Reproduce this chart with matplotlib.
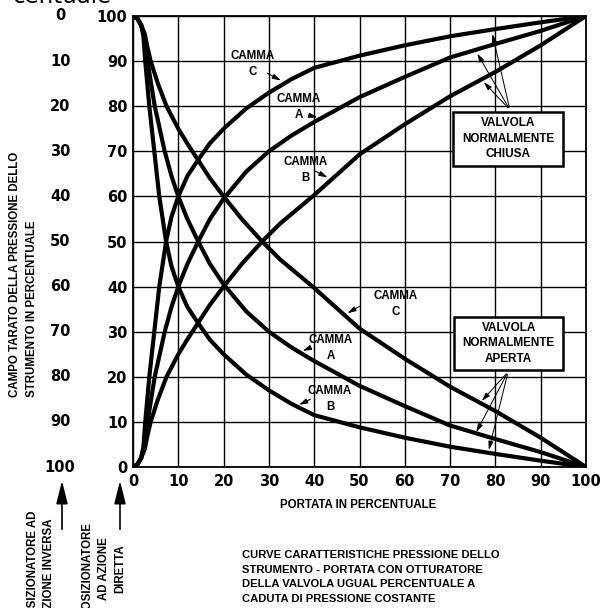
import matplotlib.pyplot as plt
from matplotlib.patches import Rectangle
from matplotlib.transforms import blended_transform_factory

# normally closed valve (pressure rises with flow), one curve per cam
flow_c = [0, 1.0, 1.8, 2.3, 2.7, 3.6, 4.7, 5.8, 7.3, 8.5, 10, 12, 14.3, 17, 20, 25, 30, 35, 40, 50, 60, 70, 80, 90, 100]
press_c = [0, 0.6, 2, 4.5, 10, 20, 30, 40, 50, 55.5, 60, 64.5, 68, 71.8, 75, 79.5, 83, 86, 88.5, 91.2, 93.5, 95.5, 97.1, 98.6, 100]

flow_a = [0, 1.0, 1.8, 2.6, 3.2, 4.8, 7.0, 8.5, 10, 12, 14.4, 17, 20, 25, 30, 35, 40, 50, 60, 70, 80, 90, 100]
press_a = [0, 0.6, 2, 5, 10, 20, 30, 35.5, 40, 45, 50, 55, 59.5, 65.5, 70, 73.5, 76.5, 82, 86.5, 90.8, 93.8, 96.7, 100]

flow_b = [0, 1.0, 1.8, 2.6, 3.2, 3.9, 5.5, 7.4, 10, 12, 14.4, 17, 20, 24, 28.5, 32.5, 40, 50, 60, 70, 80, 90, 100]
press_b = [0, 0.6, 2, 4, 7, 10, 15, 20, 25, 28.3, 32, 36, 40, 45, 50, 54, 60.3, 69.3, 76, 82.2, 87.6, 93.5, 100]

# normally open valve (pressure falls with flow)
open_press_b = [100, 99.4, 98, 95.5, 90, 80, 70, 60, 50, 44.5, 40, 35.5, 32, 28.2, 25, 20.5, 17, 14, 11.5, 8.8, 6.5, 4.5, 2.9, 1.4, 0]
open_press_a = [100, 99.4, 98, 95, 90, 80, 70, 64.5, 60, 55, 50, 45, 40.5, 34.5, 30, 26.5, 23.5, 18, 13.5, 9.2, 6.2, 3.3, 0]
open_press_c = [100, 99.4, 98, 96, 93, 90, 85, 80, 75, 71.7, 68, 64, 60, 55, 50, 46, 39.7, 30.7, 24, 17.8, 12.4, 6.5, 0]

ticks = list(range(0, 101, 10))
inverse_labels = [str(100 - t) for t in ticks]

LBL = dict(family='Liberation Sans', weight='bold', color='black')
NUM = dict(family='DejaVu Sans', weight='bold', color='black')

fig = plt.figure(figsize=(6.02, 6.08), dpi=100)
ax = fig.add_axes([133 / 602, 1 - 467 / 608, 453 / 602, 451 / 608])
ax.set_xlim(0, 100)
ax.set_ylim(0, 100)
ax.set_xticks(ticks)
ax.set_yticks(ticks)
ax.set_xticklabels([str(t) for t in ticks], fontdict=dict(NUM, size=10.5))
ax.set_yticklabels([str(t) for t in ticks], fontdict=dict(NUM, size=10.5))
ax.tick_params(length=0)
ax.tick_params(axis='x', pad=5)
ax.tick_params(axis='y', pad=4)
ax.grid(color='black', lw=1.0)
ax.set_axisbelow(True)
for s in ax.spines.values():
    s.set_linewidth(1.3)

for f, p in [(flow_c, press_c), (flow_a, press_a), (flow_b, press_b),
             (flow_c, open_press_b), (flow_a, open_press_a), (flow_b, open_press_c)]:
    ax.plot(f, p, color='black', lw=3.0, solid_capstyle='round', solid_joinstyle='round')

# outer column: inverse acting positioner
tr = blended_transform_factory(ax.transAxes, ax.transData)
for t, lab in zip(ticks, inverse_labels):
    ax.text(-0.161, t, lab, transform=tr, ha='center', va='center', fontdict=dict(NUM, size=10.5))

# cam labels with pointers
cams = [
    ('CAMMA\nC', (26.5, 89.4), (29.1, 87.6), (33.2, 85.4)),
    ('CAMMA\nA', (36.6, 79.9), (38.8, 78.0), (41.3, 77.3)),
    ('CAMMA\nB', (38.0, 65.9), (39.7, 65.9), (43.5, 63.9)),
    ('CAMMA\nC', (58.0, 36.2), (50.5, 35.9), (46.8, 33.8)),
    ('CAMMA\nA', (43.7, 26.3), (39.7, 26.7), (36.9, 25.5)),
    ('CAMMA\nB', (43.5, 15.1), (39.7, 15.3), (36.1, 13.5)),
]
for txt, pos, start, end in cams:
    ax.text(pos[0], pos[1], txt, ha='center', va='center', linespacing=1.45,
            fontdict=dict(LBL, size=8.3), zorder=5)
    ax.annotate('', xy=end, xytext=start,
                arrowprops=dict(arrowstyle='-|>,head_length=0.5,head_width=0.15', lw=0.8, color='black'))

# boxes
for (x0, y0, x1, y1), txt, src, targets in [
        ((70.6, 66.7, 95.0, 78.8), 'VALVOLA\nNORMALMENTE\nCHIUSA', (83.2, 79.2),
         [(79.2, 96.6), (75.7, 92.2), (77.0, 85.8)]),
        ((70.9, 21.5, 95.0, 33.3), 'VALVOLA\nNORMALMENTE\nAPERTA', (82.8, 21.1),
         [(76.6, 14.2), (75.5, 7.2), (78.4, 3.2)])]:
    ax.add_patch(Rectangle((x0, y0), x1 - x0, y1 - y0, facecolor='white',
                           edgecolor='black', lw=1.8, zorder=4))
    ax.text((x0 + x1) / 2, (y0 + y1) / 2, txt, ha='center', va='center', linespacing=1.4,
            fontdict=dict(LBL, size=8.5), zorder=5)
    for tg in targets:
        ax.annotate('', xy=tg, xytext=src,
                    arrowprops=dict(arrowstyle='-|>,head_length=0.5,head_width=0.15', lw=0.7, color='black'))

fig.text(358 / 602, 1 - 505 / 608, 'PORTATA IN PERCENTUALE', ha='center', va='center',
         fontdict=dict(LBL, size=8.3))
fig.text(23.5 / 602, 1 - 397 / 608, 'CAMPO TARATO DELLA PRESSIONE DELLO\nSTRUMENTO IN PERCENTUALE',
         rotation=90, ha='center', va='bottom', multialignment='left', linespacing=1.55,
         fontdict=dict(LBL, size=8.3))
fig.text(242 / 602, 1 - 577 / 608,
         'CURVE CARATTERISTICHE PRESSIONE DELLO\nSTRUMENTO - PORTATA CON OTTURATORE\n'
         'DELLA VALVOLA UGUAL PERCENTUALE A\nCADUTA DI PRESSIONE COSTANTE',
         ha='left', va='center', linespacing=1.6, fontdict=dict(LBL, size=8.1))
fig.text(41 / 602, 1 - 567 / 608, 'POSIZIONATORE AD\nAZIONE INVERSA', rotation=90,
         ha='center', va='center', multialignment='center', linespacing=1.5,
         fontdict=dict(LBL, size=8.3))
fig.text(104 / 602, 1 - 569 / 608, 'POSIZIONATORE\nAD AZIONE\nDIRETTA', rotation=90,
         ha='center', va='center', multialignment='center', linespacing=1.5,
         fontdict=dict(LBL, size=8.3))
for xp in (62, 120):
    ax.annotate('', xy=(xp / 602, 1 - 478 / 608), xytext=(xp / 602, 1 - 532 / 608),
                xycoords='figure fraction', textcoords='figure fraction',
                arrowprops=dict(arrowstyle='-|>,head_length=1.4,head_width=0.35', lw=1.2, color='black'))

fig.text(13 / 602, 1 - 3 / 608, 'centuale', ha='left', va='baseline', fontsize=16.5,
         family='DejaVu Sans')

fig.savefig('out.png', dpi=100)
